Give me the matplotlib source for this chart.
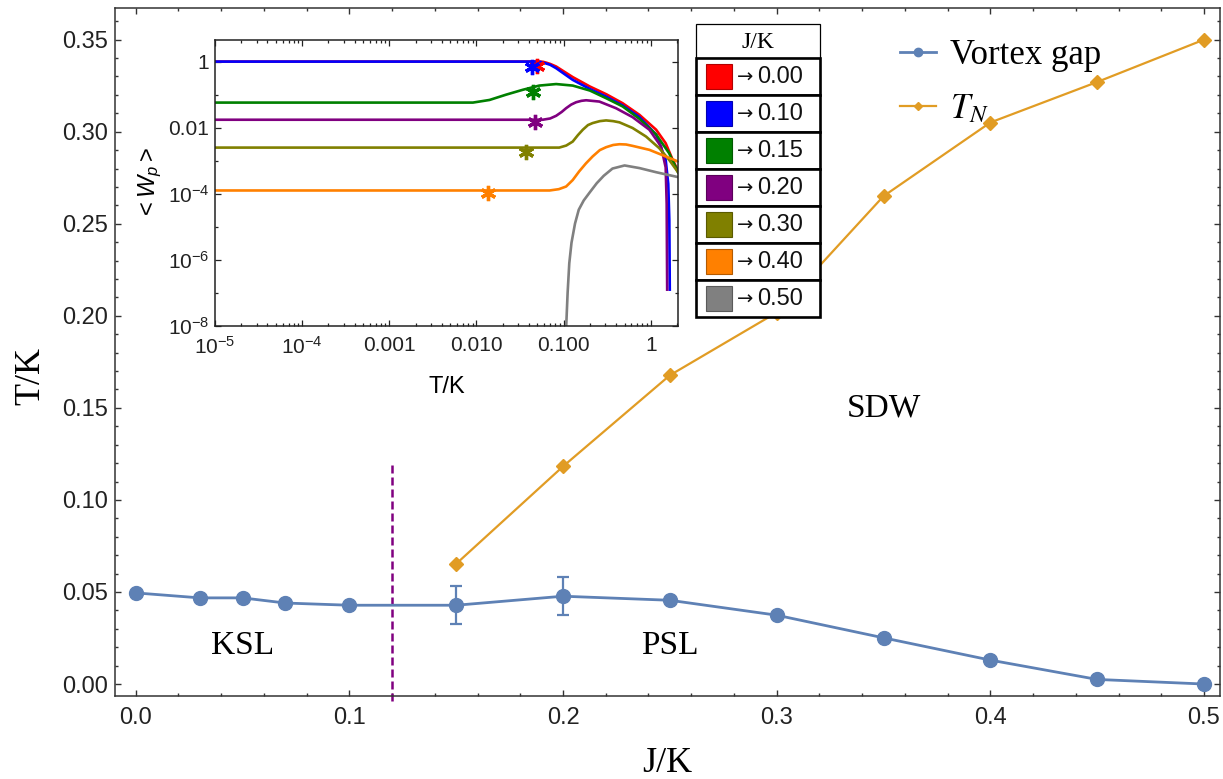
import numpy as np
import matplotlib
matplotlib.use("Agg")
import matplotlib.pyplot as plt
from matplotlib.patches import Rectangle
from matplotlib.ticker import (FixedLocator, FixedFormatter, NullFormatter,
                               MultipleLocator, FormatStrFormatter, LogLocator)

plt.rcParams['mathtext.fontset'] = 'custom'
plt.rcParams['mathtext.rm'] = 'Liberation Sans'
plt.rcParams['mathtext.it'] = 'Liberation Sans:italic'

SANS = ['Liberation Sans', 'DejaVu Sans']
SERIF = ['Liberation Serif', 'DejaVu Serif']

# ---------------- phase diagram data ----------------
j_gap = [0.00, 0.03, 0.05, 0.07, 0.10, 0.15, 0.20, 0.25, 0.30, 0.35, 0.40, 0.45, 0.50]
vortex_gap = [0.0495, 0.0468, 0.0468, 0.0440, 0.0428, 0.0428, 0.0477, 0.0455,
              0.0374, 0.0251, 0.0130, 0.0025, 0.0000]
vortex_err = [0, 0, 0, 0, 0, 0.0102, 0.0102, 0, 0, 0, 0, 0, 0]

j_neel = [0.15, 0.20, 0.25, 0.30, 0.35, 0.40, 0.45, 0.50]
t_neel = [0.0653, 0.1182, 0.1677, 0.2018, 0.265, 0.305, 0.327, 0.350]

j_boundary = 0.12
boundary_top = 0.121

phase_names = ['KSL', 'PSL', 'SDW']
phase_j = [0.05, 0.25, 0.35]
phase_t = [0.021, 0.021, 0.150]

# ---------------- plaquette expectation value <W_p>(T) ----------------
inset_j = ['0.00', '0.10', '0.15', '0.20', '0.30', '0.40', '0.50']
inset_colors = ['#FF0000', '#0000FF', '#008000', '#800080', '#808000', '#FF8000', '#808080']

t_j000 = [1e-5, 0.052, 0.058, 0.063, 0.070, 0.082, 0.127, 0.20, 0.31, 0.475, 0.74, 1.15,
          1.48, 1.78, 2.05]
w_j000 = [1, 1, 0.985, 0.93, 0.85, 0.71, 0.34, 0.176, 0.102, 0.055, 0.0245, 0.0087,
          0.0034, 0.00107, 0.0005]

t_j010 = [1e-5, 0.048, 0.054, 0.060, 0.070, 0.082, 0.127, 0.20, 0.307, 0.475, 0.738, 1.15,
          1.48, 1.585, 1.63, 1.65]
w_j010 = [1, 1, 0.98, 0.91, 0.80, 0.63, 0.28, 0.148, 0.087, 0.047, 0.021, 0.0062,
          0.00107, 2.0e-4, 1.6e-5, 1.26e-7]

t_j015 = [1e-5, 0.0091, 0.0141, 0.0219, 0.0339, 0.0525, 0.082, 0.127, 0.20, 0.307, 0.475,
          0.738, 1.15, 1.62, 2.05]
w_j015 = [0.0575, 0.0575, 0.069, 0.10, 0.14, 0.188, 0.209, 0.188, 0.133, 0.078, 0.044,
          0.0186, 0.0062, 0.0017, 4.5e-4]

t_j020 = [1e-5, 0.0575, 0.070, 0.082, 0.095, 0.1067, 0.122, 0.139, 0.160, 0.181, 0.257,
          0.398, 0.617, 0.962, 1.31, 1.48, 1.52, 1.54]
w_j020 = [0.0174, 0.0174, 0.019, 0.0229, 0.030, 0.0389, 0.050, 0.0589, 0.065, 0.0676,
          0.0617, 0.0389, 0.0209, 0.0087, 0.0027, 6.3e-4, 5e-5, 1.26e-7]

t_j030 = [1e-5, 0.089, 0.107, 0.127, 0.146, 0.166, 0.19, 0.215, 0.26, 0.307, 0.37, 0.437,
          0.617, 0.881, 1.25, 1.62, 2.05]
w_j030 = [0.0025, 0.0025, 0.00288, 0.0038, 0.006, 0.0087, 0.012, 0.0138, 0.0158, 0.0166,
          0.0158, 0.0145, 0.0098, 0.0054, 0.0024, 0.00107, 4.5e-4]

t_j040 = [1e-5, 0.069, 0.088, 0.1067, 0.127, 0.151, 0.18, 0.215, 0.26, 0.307, 0.37, 0.437,
          0.52, 0.617, 0.962, 1.48, 2.05]
w_j040 = [1.26e-4, 1.26e-4, 1.38e-4, 1.66e-4, 2.6e-4, 4.8e-4, 8.3e-4, 0.00135, 0.0021,
          0.00257, 0.0030, 0.00316, 0.0031, 0.00282, 0.00214, 0.00135, 9.5e-4]

t_j050 = [0.107, 0.111, 0.116, 0.123, 0.135, 0.149, 0.170, 0.20, 0.24, 0.288, 0.363, 0.50,
          0.74, 1.15, 2.05]
w_j050 = [1e-8, 1e-7, 7.9e-7, 3.3e-6, 1.26e-5, 3.3e-5, 6.3e-5, 1.12e-4, 2.1e-4, 3.5e-4,
          5.8e-4, 7.2e-4, 6.0e-4, 4.5e-4, 3.2e-4]

# temperature at which each curve reaches its low-T plateau
star_t = [0.050, 0.043, 0.044, 0.047, 0.037, 0.0135]
star_w = [0.74, 0.71, 0.117, 0.0145, 0.0019, 1.05e-4]

curves_t = [t_j000, t_j010, t_j015, t_j020, t_j030, t_j040, t_j050]
curves_w = [w_j000, w_j010, w_j015, w_j020, w_j030, w_j040, w_j050]

BLUE = '#5E81B5'
ORANGE = '#E19C24'
FRAME = '#333333'

W, H = 1223, 779
fig = plt.figure(figsize=(W / 100, H / 100), dpi=100)


def px_rect(x0, y0, x1, y1):
    return [x0 / W, 1 - y1 / H, (x1 - x0) / W, (y1 - y0) / H]


# ---------------- main panel ----------------
ax = fig.add_axes(px_rect(115, 8, 1220, 696))
ax.set_xlim(-0.0097, 0.5075)
ax.set_ylim(-0.0065, 0.3672)

gap_line, = ax.plot(j_gap, vortex_gap, '-o', color=BLUE, lw=2.0, ms=10, zorder=3)
jg = np.array(j_gap)
vg = np.array(vortex_gap)
ve = np.array(vortex_err)
has_err = ve > 0
ax.errorbar(jg[has_err], vg[has_err], yerr=ve[has_err], fmt='none', ecolor=BLUE,
            elinewidth=1.6, capsize=4, capthick=1.6, zorder=3)
neel_line, = ax.plot(j_neel, t_neel, '-D', color=ORANGE, lw=1.6, ms=6.8, zorder=3)

ax.plot([j_boundary, j_boundary], [-0.009, boundary_top], color='#800080', lw=1.8,
        dashes=(3.2, 1.6), clip_on=False, zorder=2)

for name, xj, yt in zip(phase_names, phase_j, phase_t):
    ax.text(xj, yt, name, family=SERIF, fontsize=24, ha='center', va='center')

ax.xaxis.set_major_locator(MultipleLocator(0.1))
ax.xaxis.set_minor_locator(MultipleLocator(0.02))
ax.yaxis.set_major_locator(MultipleLocator(0.05))
ax.yaxis.set_minor_locator(MultipleLocator(0.01))
ax.xaxis.set_major_formatter(FormatStrFormatter('%.1f'))
ax.yaxis.set_major_formatter(FormatStrFormatter('%.2f'))
ax.tick_params(which='both', direction='in', top=True, right=True, color=FRAME,
               labelcolor='#222222', labelsize=17, width=1.0)
ax.tick_params(which='major', length=4.3)
ax.tick_params(which='minor', length=2.4)
ax.tick_params(axis='x', pad=8)
ax.tick_params(axis='y', pad=5)
for lbl in ax.get_xticklabels() + ax.get_yticklabels():
    lbl.set_family(SANS)
for sp in ax.spines.values():
    sp.set_color(FRAME)
    sp.set_linewidth(1.1)

ax.set_xlabel('J/K', family=SERIF, fontsize=26)
ax.set_ylabel('T/K', family=SERIF, fontsize=26)
ax.xaxis.label.set_va('center')
ax.yaxis.label.set_va('center')
ax.xaxis.set_label_coords(0.5, -0.0975)
ax.yaxis.set_label_coords(-0.0760, 0.465)

leg = ax.legend([gap_line, neel_line], ['Vortex gap', '$T_N$'],
                loc='upper left', bbox_to_anchor=(900 / W, 1 - 39 / H),
                bbox_transform=fig.transFigure, frameon=False, borderpad=0,
                borderaxespad=0, handlelength=1.05, handletextpad=0.4,
                labelspacing=0.62, markerscale=0.6, numpoints=1,
                prop={'family': SERIF, 'size': 25})
leg.get_texts()[1].set_math_fontfamily('stix')

# ---------------- inset: <W_p> versus temperature ----------------
axi = fig.add_axes(px_rect(215, 40, 678, 326))
axi.set_facecolor('white')
axi.set_xscale('log')
axi.set_yscale('log')
for tt, ww, col in zip(curves_t, curves_w, inset_colors):
    axi.plot(tt, ww, color=col, lw=1.9, solid_joinstyle='round')
for st, sw, col in zip(star_t, star_w, inset_colors):
    axi.plot(st, sw, marker=(6, 2, 0), ms=11, mew=2.4, color=col, ls='none')
axi.set_xlim(1e-5, 2.05)
axi.set_ylim(1e-8, 4.5)

x_major = [1e-5, 1e-4, 1e-3, 1e-2, 1e-1, 1]
x_labels = [r'$\mathregular{10^{-5}}$', r'$\mathregular{10^{-4}}$', '0.001', '0.010', '0.100', '1']
y_major = [1e-8, 1e-6, 1e-4, 1e-2, 1]
y_labels = [r'$\mathregular{10^{-8}}$', r'$\mathregular{10^{-6}}$', r'$\mathregular{10^{-4}}$',
            '0.01', '1']
axi.xaxis.set_major_locator(FixedLocator(x_major))
axi.xaxis.set_major_formatter(FixedFormatter(x_labels))
axi.xaxis.set_minor_locator(LogLocator(base=10, subs=np.arange(2, 10), numticks=20))
axi.xaxis.set_minor_formatter(NullFormatter())
axi.yaxis.set_major_locator(FixedLocator(y_major))
axi.yaxis.set_major_formatter(FixedFormatter(y_labels))
axi.yaxis.set_minor_locator(FixedLocator([1e-7, 1e-5, 1e-3, 1e-1]))
axi.yaxis.set_minor_formatter(NullFormatter())
axi.tick_params(which='both', direction='in', top=True, right=True, color='#222222',
                labelcolor='#222222', labelsize=15, width=0.9)
axi.tick_params(which='major', length=4.3)
axi.tick_params(which='minor', length=2.4)
axi.tick_params(axis='x', pad=7)
axi.tick_params(axis='y', pad=4)
for lbl in axi.get_xticklabels() + axi.get_yticklabels():
    lbl.set_family(SANS)
for sp in axi.spines.values():
    sp.set_color('#222222')
    sp.set_linewidth(1.1)
axi.set_xlabel('T/K', family=SANS, fontsize=17)
axi.set_ylabel(r'$\mathregular{<}W_p\mathregular{>}$', family=SANS, fontsize=17)
axi.xaxis.label.set_va('center')
axi.yaxis.label.set_va('center')
axi.xaxis.set_label_coords(0.5, -0.213)
axi.yaxis.set_label_coords(-0.14, 0.5)

# ---------------- colour key for the inset ----------------
ov = fig.add_axes([0, 0, 1, 1])
ov.set_xlim(0, W)
ov.set_ylim(H, 0)
ov.axis('off')
box_l, box_r = 696, 820
head_t, head_b = 24, 58.3
row_h = (316.7 - head_b) / len(inset_j)
ov.add_patch(Rectangle((box_l, head_t), box_r - box_l, head_b - head_t, fill=True,
                       facecolor='white', edgecolor='black', lw=0.9))
ov.text((box_l + box_r) / 2, (head_t + head_b) / 2 + 1, 'J/K', family=SERIF, fontsize=17,
        ha='center', va='center')
for k, (lab, col) in enumerate(zip(inset_j, inset_colors)):
    top = head_b + k * row_h
    ov.add_patch(Rectangle((box_l, top), box_r - box_l, row_h, facecolor='white',
                           edgecolor='black', lw=1.9))
    cy = top + row_h / 2
    ov.add_patch(Rectangle((706, cy - 12.5), 26, 25, facecolor=col,
                           edgecolor=tuple(0.7 * np.array(matplotlib.colors.to_rgb(col))),
                           lw=0.8))
    ov.text(737, cy + 0.5, '\u2192', family=['DejaVu Sans'], fontsize=14, ha='left',
            va='center', color='#111111')
    ov.text(757, cy + 0.5, lab, family=SANS, fontsize=17, ha='left',
            va='center', color='#111111')

fig.savefig('out.png', dpi=100)
